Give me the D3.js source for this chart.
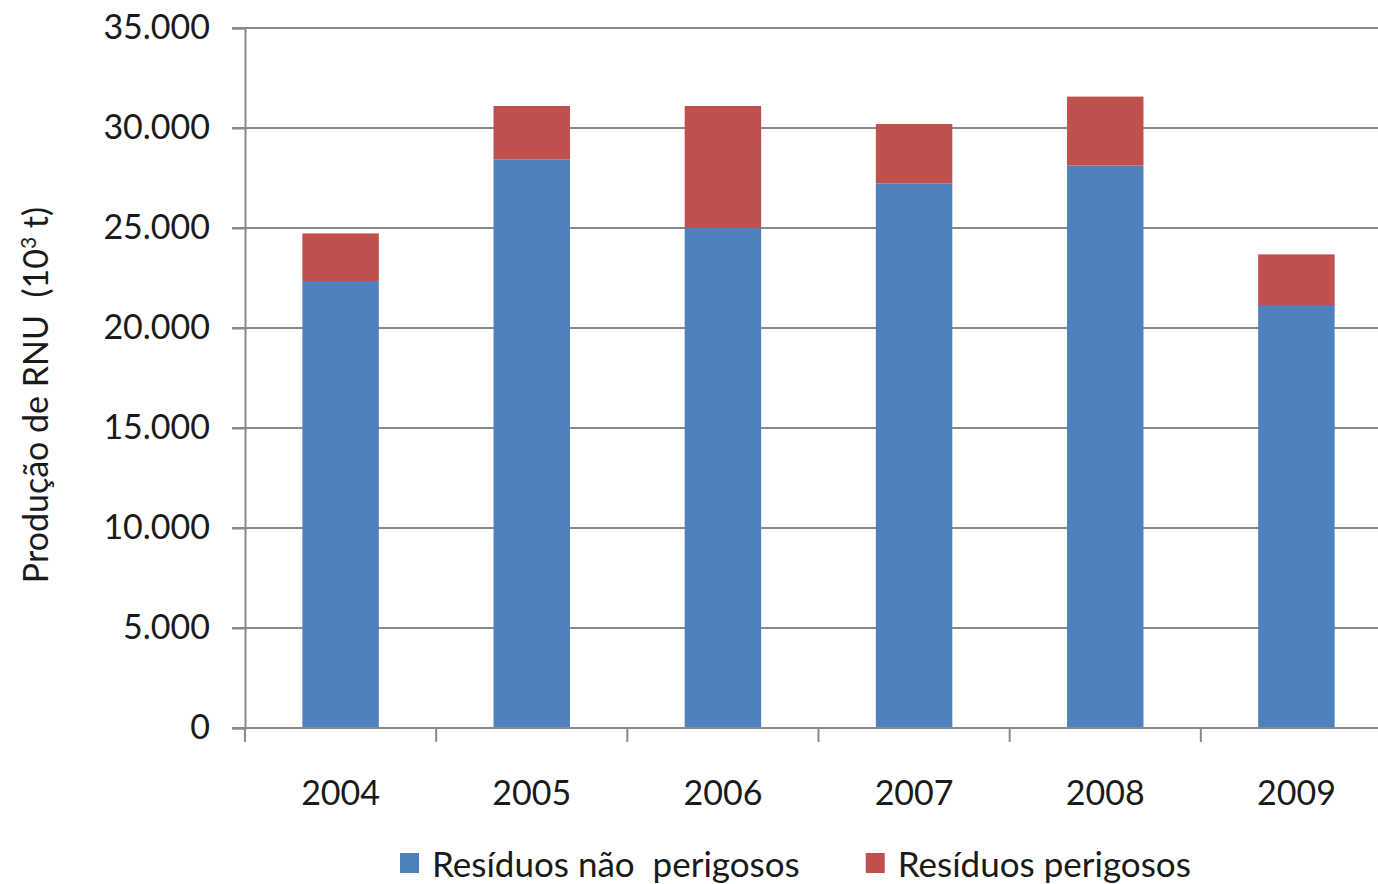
<!DOCTYPE html>
<html>
<head>
<meta charset="utf-8">
<script src="https://cdn.jsdelivr.net/npm/d3@7"></script>
<style>
    body { margin: 0; background: #fff; }
    text { font-family: Lato, "Open Sans", sans-serif; fill: #1a1a1a; }
</style>
</head>
<body>
<script>
// data (10^3 t)
var years = ["2004", "2005", "2006", "2007", "2008", "2009"]
var naoPerigosos = [22350, 28430, 25010, 27230, 28120, 21150]
var perigosos = [2380, 2670, 6090, 2970, 3450, 2530]
var seriesNames = ["Resíduos não  perigosos", "Resíduos perigosos"]
var seriesColors = ["#4f81bd", "#c0504d"]
var yTicks = [0, 5000, 10000, 15000, 20000, 25000, 30000, 35000]

const width = 1378
const height = 884

// plot box
const plotLeft = 245
const plotRight = 1392
const plotTop = 28
const plotBottom = 728

var svg = d3.select("body")
    .append("svg")
    .attr("width", width)
    .attr("height", height)

//build stacked rows
var rows = years.map(function (y, i) {
    return { year: y, nao: naoPerigosos[i], per: perigosos[i] }
})
var stack = d3.stack().keys(["nao", "per"])
var stacked = stack(rows)

var xScale = d3.scaleBand()
    .domain(years)
    .range([plotLeft, plotRight])
    .paddingInner(0.6)
    .paddingOuter(0.3)

var yScale = d3.scaleLinear()
    .domain([0, 35000])
    .range([plotBottom, plotTop])

var fmt = function (v) { return d3.format(",")(v).replace(/,/g, ".") }

//grid lines
svg.append("g")
    .selectAll("line")
    .data(yTicks)
    .enter()
    .append("line")
    .attr("x1", plotLeft - 13)
    .attr("x2", width)
    .attr("y1", d => yScale(d))
    .attr("y2", d => yScale(d))
    .attr("stroke", "#8a8a8a")
    .attr("stroke-width", 2)

//y axis
var yAxis = d3.axisLeft(yScale)
    .tickValues(yTicks)
    .tickFormat(fmt)
    .tickSize(13)
    .tickPadding(22)
var yG = svg.append("g")
    .attr("transform", "translate(" + plotLeft + ",0)")
    .call(yAxis)
yG.select(".domain").attr("stroke", "#8a8a8a").attr("stroke-width", 2)
yG.selectAll(".tick line").attr("stroke", "#8a8a8a").attr("stroke-width", 2)
yG.selectAll(".tick text")
    .attr("font-size", "34px")
    .attr("font-family", "Lato, sans-serif")
    .attr("fill", "#1a1a1a")

//bars
svg.append("g")
    .selectAll("g")
    .data(stacked)
    .enter()
    .append("g")
    .attr("fill", (d, i) => seriesColors[i])
    .selectAll("rect")
    .data(d => d)
    .enter()
    .append("rect")
    .attr("x", d => xScale(d.data.year))
    .attr("width", xScale.bandwidth())
    .attr("y", d => yScale(d[1]))
    .attr("height", d => yScale(d[0]) - yScale(d[1]))

//x axis with ticks on category boundaries
var xAxisLine = svg.append("g")
xAxisLine.append("line")
    .attr("x1", plotLeft - 13)
    .attr("x2", width)
    .attr("y1", plotBottom)
    .attr("y2", plotBottom)
    .attr("stroke", "#8a8a8a")
    .attr("stroke-width", 2)
xAxisLine.selectAll(".xt")
    .data(years)
    .enter()
    .append("line")
    .attr("class", "xt")
    .attr("x1", d => xScale(d) - xScale.step() * xScale.paddingOuter())
    .attr("x2", d => xScale(d) - xScale.step() * xScale.paddingOuter())
    .attr("y1", plotBottom)
    .attr("y2", plotBottom + 14)
    .attr("stroke", "#8a8a8a")
    .attr("stroke-width", 2)
xAxisLine.selectAll(".xl")
    .data(years)
    .enter()
    .append("text")
    .attr("class", "xl")
    .attr("x", d => xScale(d) + xScale.bandwidth() / 2)
    .attr("y", 805)
    .attr("text-anchor", "middle")
    .attr("font-size", "34px")
    .text(d => d)

//y label
var yLabel = svg.append("text")
    .attr("transform", "rotate(-90)")
    .attr("x", -395)
    .attr("y", 48)
    .attr("text-anchor", "middle")
    .attr("font-size", "34px")
    .style("white-space", "pre")
yLabel.append("tspan").text("Produção de RNU  (10")
yLabel.append("tspan").attr("baseline-shift", "super").attr("font-size", "21px").text("3")
yLabel.append("tspan").text(" t)")

//legend
var legend = svg.append("g")
var lx = 400
seriesNames.forEach(function (name, i) {
    legend.append("rect")
        .attr("x", lx)
        .attr("y", 853)
        .attr("width", 19)
        .attr("height", 20)
        .attr("fill", seriesColors[i])
    var t = legend.append("text")
        .attr("x", lx + 32)
        .attr("y", 877)
        .attr("font-size", "35px")
        .style("white-space", "pre")
        .text(name)
    lx = lx + 32 + t.node().getComputedTextLength() + 66
})
</script>
</body>
</html>
